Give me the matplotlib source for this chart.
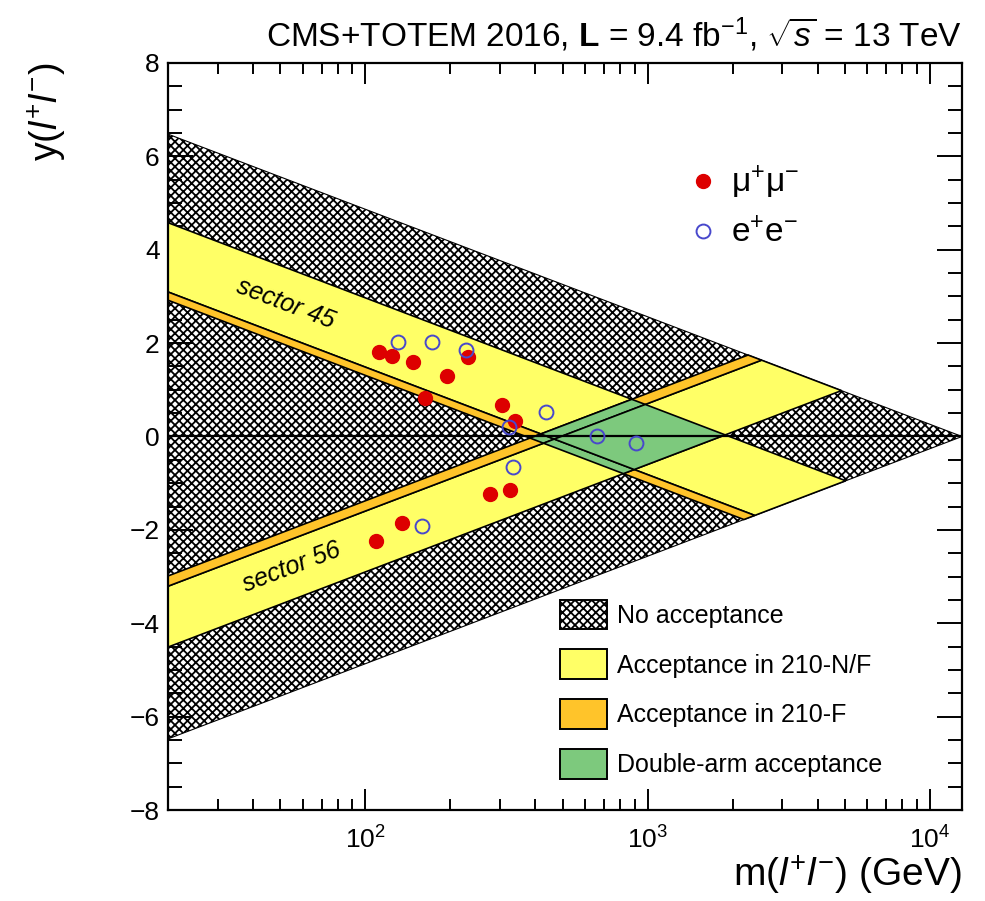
import numpy as np
import matplotlib
matplotlib.use("Agg")
import matplotlib.pyplot as plt
from matplotlib.patches import Polygon, Patch
from matplotlib.lines import Line2D
from matplotlib.ticker import LogLocator, MultipleLocator, NullFormatter

plt.rcParams['font.family'] = ['Liberation Sans', 'DejaVu Sans']
plt.rcParams['mathtext.fontset'] = 'custom'
plt.rcParams['mathtext.rm'] = 'Liberation Sans'
plt.rcParams['mathtext.it'] = 'Liberation Sans:italic'
plt.rcParams['mathtext.bf'] = 'Liberation Sans:bold'
plt.rcParams['hatch.linewidth'] = 1.3

# kinematics
sqrt_s = 13000.0
m_min = 20.0
y_max = 8
# proton xi acceptance per arm: [210-F lower, 210-N/F lower, upper]
xi_45 = [0.0285, 0.034, 0.150]
xi_56 = [0.0305, 0.038, 0.140]

# candidate events
mumu_mass = [112, 124, 148, 194, 163, 232, 305, 340, 277, 326, 109, 135]
mumu_y = [1.81, 1.72, 1.60, 1.30, 0.82, 1.70, 0.67, 0.33, -1.23, -1.15, -2.24, -1.85]
ee_mass = [131, 173, 228, 437, 324, 334, 662, 910, 159]
ee_y = [2.02, 2.02, 1.85, 0.52, 0.20, -0.65, 0.01, -0.14, -1.92]

c_yellow = '#ffff66'
c_orange = '#ffc42a'
c_green = '#7dc97d'
c_red = '#dd0000'
c_blue = '#4848cc'
hatch = 'xxxx'


def to_mass(u):
    return sqrt_s * np.exp(u)


def band(lo, hi, sign):
    # sign=+1 : sector 45 (y falls with mass), sign=-1 : sector 56
    u0 = np.log(m_min / sqrt_s)
    la, lb = np.log(lo), np.log(hi)
    u = np.array([u0, lb / 2, la / 2, u0])
    y = np.array([lb - u0, lb / 2, la / 2, la - u0])
    return np.column_stack([to_mass(u), sign * y])


def double_arm(r45, r56):
    p = np.log([r45[0], r45[1], r45[1], r45[0]])
    q = np.log([r56[0], r56[0], r56[1], r56[1]])
    return np.column_stack([to_mass((p + q) / 2), (p - q) / 2])


fig = plt.figure(figsize=(9.85, 9.01), dpi=100)
ax = fig.add_axes([168 / 985, 91 / 901, 794 / 985, 747 / 901])
ax.set_xscale('log')
ax.set_xlim(m_min, sqrt_s)
ax.set_ylim(-y_max, y_max)

u0 = np.log(m_min / sqrt_s)
tri = np.column_stack([to_mass(np.array([u0, 0, u0])), [-u0, 0, u0]])
ax.add_patch(Polygon(tri, closed=True, facecolor='white', edgecolor='black',
                     hatch=hatch, lw=0.8, zorder=1))

for xi, sgn in [(xi_45, 1), (xi_56, -1)]:
    ax.add_patch(Polygon(band(xi[1], xi[2], sgn), facecolor=c_yellow,
                         edgecolor='black', lw=1.2, zorder=2))
    ax.add_patch(Polygon(band(xi[0], xi[1], sgn), facecolor=c_orange,
                         edgecolor='black', lw=1.2, zorder=2))

for r45 in [(xi_45[0], xi_45[1]), (xi_45[1], xi_45[2])]:
    for r56 in [(xi_56[0], xi_56[1]), (xi_56[1], xi_56[2])]:
        ax.add_patch(Polygon(double_arm(r45, r56), facecolor=c_green,
                             edgecolor='black', lw=1.2, zorder=3))

ax.axhline(0, color='black', lw=1.6, zorder=4)

ax.plot(mumu_mass, mumu_y, 'o', color=c_red, ms=10, zorder=6)
ax.plot(ee_mass, ee_y, 'o', mfc='none', mec=c_blue, mew=1.4, ms=10, zorder=6)

ax.text(52, 2.85, 'sector 45', rotation=-20.8, fontsize=18, style='italic',
        ha='center', va='center', rotation_mode='anchor', zorder=7)
ax.text(55, -2.8, 'sector 56', rotation=20.8, fontsize=18, style='italic',
        ha='center', va='center', rotation_mode='anchor', zorder=7)

# axes style
ax.xaxis.set_major_locator(LogLocator(base=10, numticks=10))
ax.xaxis.set_minor_locator(LogLocator(base=10, subs=np.arange(2, 10), numticks=20))
ax.xaxis.set_minor_formatter(NullFormatter())
ax.yaxis.set_major_locator(MultipleLocator(2))
ax.yaxis.set_minor_locator(MultipleLocator(0.5))
ax.tick_params(which='both', direction='in', top=True, right=True, width=1.4)
ax.tick_params(axis='x', which='major', length=15, labelsize=19, pad=12)
ax.tick_params(axis='x', which='minor', length=8)
ax.tick_params(axis='y', which='major', length=18, labelsize=19, pad=6)
ax.tick_params(axis='y', which='minor', length=10)
for s in ax.spines.values():
    s.set_linewidth(1.6)
    s.set_zorder(8)

ax.set_xlabel(r'm($l^{+}l^{-}$) (GeV)', fontsize=28, loc='right', labelpad=0)
ax.set_ylabel(r'y($l^{+}l^{-}$)', fontsize=27, loc='top', labelpad=44)

fig.text(962 / 985, 1 - 35 / 901,
         r'CMS+TOTEM 2016, $\mathbf{L}$ = 9.4 fb$^{-1}$, $\sqrt{s}$ = 13 TeV',
         fontsize=24, ha='right', va='center')

# legends
mk = [Line2D([], [], ls='none', marker='o', color=c_red, ms=10),
      Line2D([], [], ls='none', marker='o', mfc='none', mec=c_blue, mew=1.4, ms=10)]
leg1 = ax.legend(mk, [r'$\mathregular{\mu^{+}\mu^{-}}$', r'e$^{+}$e$^{-}$'],
                 loc='upper left', bbox_to_anchor=(0.617, 0.905), frameon=False,
                 fontsize=24, handlelength=0.9, handletextpad=0.4, labelspacing=0.5)
ax.add_artist(leg1)

areas = [Patch(facecolor='white', edgecolor='black', hatch=hatch, lw=1.4),
         Patch(facecolor=c_yellow, edgecolor='black', lw=1.4),
         Patch(facecolor=c_orange, edgecolor='black', lw=1.4),
         Patch(facecolor=c_green, edgecolor='black', lw=1.4)]
area_labels = ['No acceptance', 'Acceptance in 210-N/F',
               'Acceptance in 210-F', 'Double-arm acceptance']
leg2 = ax.legend(areas, area_labels, loc='lower left', bbox_to_anchor=(0.465, 0.012),
                 frameon=False, fontsize=18, handlelength=1.9, handleheight=1.45,
                 handletextpad=0.4, labelspacing=0.8)
leg2.set_zorder(9)
leg1.set_zorder(9)

fig.savefig('out.png', dpi=100)
